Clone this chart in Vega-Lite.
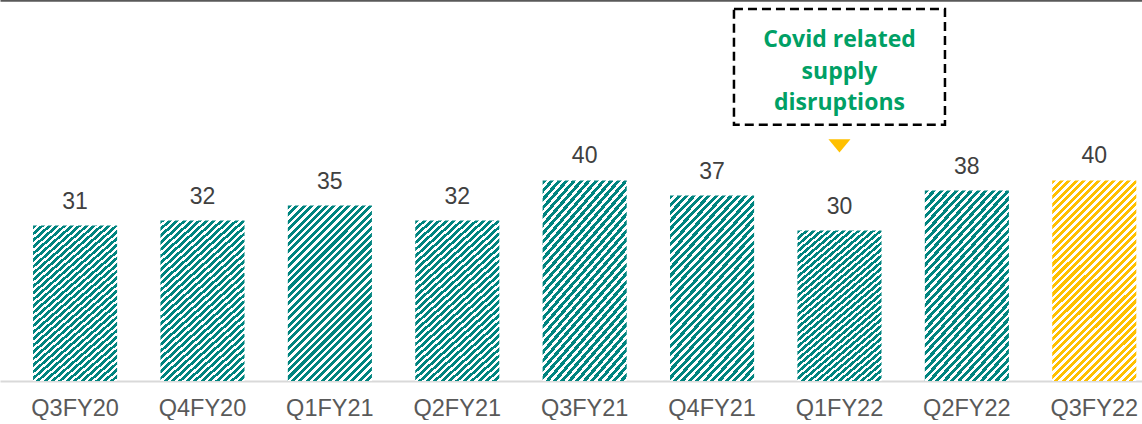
{
  "$schema": "https://vega.github.io/schema/vega-lite/v6.json",
  "width": 1142,
  "height": 381,
  "padding": 0,
  "autosize": {"type": "pad"},
  "config": {"view": {"stroke": null}, "font": "Liberation Sans"},
  "datasets": {
    "sales": [
      {"q": "Q3FY20", "v": 31},
      {"q": "Q4FY20", "v": 32},
      {"q": "Q1FY21", "v": 35},
      {"q": "Q2FY21", "v": 32},
      {"q": "Q3FY21", "v": 40},
      {"q": "Q4FY21", "v": 37},
      {"q": "Q1FY22", "v": 30},
      {"q": "Q2FY22", "v": 38},
      {"q": "Q3FY22", "v": 40}
    ],
    "notes": [
      {"q": "Q1FY22", "label": ["Covid related", "supply", "disruptions"]}
    ]
  },
  "layer": [
    {
      "data": {"name": "sales"},
      "mark": {"type": "bar"},
      "encoding": {
        "x": {
          "field": "q", "type": "nominal", "sort": null,
          "scale": {"domain": ["Q3FY20","Q4FY20","Q1FY21","Q2FY21","Q3FY21","Q4FY21","Q1FY22","Q2FY22","Q3FY22"], "paddingInner": 0.34, "paddingOuter": 0.152, "align": 0.853},
          "axis": {"title": null, "orient": "bottom", "ticks": false, "labelAngle": 0, "labelFontSize": 23.5, "labelColor": "#595959", "labelPadding": 15, "domainColor": "#D9D9D9", "domainWidth": 2}
        },
        "y": {"field": "v", "type": "quantitative", "scale": {"domain": [0, 76], "nice": false}, "axis": null},
        "fill": {
          "condition": {
            "test": "datum.q === 'Q3FY22'",
            "value": {"gradient": "linear", "x1": 0, "y1": 0, "x2": 0.504, "y2": 1.207, "stops": [
              {"offset": 0, "color": "#FFC000"},{"offset": 0.0145, "color": "#FFC000"},{"offset": 0.0145, "color": "#fff"},{"offset": 0.0263, "color": "#fff"},
              {"offset": 0.0263, "color": "#FFC000"},{"offset": 0.0408, "color": "#FFC000"},{"offset": 0.0408, "color": "#fff"},{"offset": 0.0526, "color": "#fff"},
              {"offset": 0.0526, "color": "#FFC000"},{"offset": 0.0671, "color": "#FFC000"},{"offset": 0.0671, "color": "#fff"},{"offset": 0.0789, "color": "#fff"},
              {"offset": 0.0789, "color": "#FFC000"},{"offset": 0.0934, "color": "#FFC000"},{"offset": 0.0934, "color": "#fff"},{"offset": 0.1053, "color": "#fff"},
              {"offset": 0.1053, "color": "#FFC000"},{"offset": 0.1197, "color": "#FFC000"},{"offset": 0.1197, "color": "#fff"},{"offset": 0.1316, "color": "#fff"},
              {"offset": 0.1316, "color": "#FFC000"},{"offset": 0.1461, "color": "#FFC000"},{"offset": 0.1461, "color": "#fff"},{"offset": 0.1579, "color": "#fff"},
              {"offset": 0.1579, "color": "#FFC000"},{"offset": 0.1724, "color": "#FFC000"},{"offset": 0.1724, "color": "#fff"},{"offset": 0.1842, "color": "#fff"},
              {"offset": 0.1842, "color": "#FFC000"},{"offset": 0.1987, "color": "#FFC000"},{"offset": 0.1987, "color": "#fff"},{"offset": 0.2105, "color": "#fff"},
              {"offset": 0.2105, "color": "#FFC000"},{"offset": 0.2250, "color": "#FFC000"},{"offset": 0.2250, "color": "#fff"},{"offset": 0.2368, "color": "#fff"},
              {"offset": 0.2368, "color": "#FFC000"},{"offset": 0.2513, "color": "#FFC000"},{"offset": 0.2513, "color": "#fff"},{"offset": 0.2632, "color": "#fff"},
              {"offset": 0.2632, "color": "#FFC000"},{"offset": 0.2776, "color": "#FFC000"},{"offset": 0.2776, "color": "#fff"},{"offset": 0.2895, "color": "#fff"},
              {"offset": 0.2895, "color": "#FFC000"},{"offset": 0.3039, "color": "#FFC000"},{"offset": 0.3039, "color": "#fff"},{"offset": 0.3158, "color": "#fff"},
              {"offset": 0.3158, "color": "#FFC000"},{"offset": 0.3303, "color": "#FFC000"},{"offset": 0.3303, "color": "#fff"},{"offset": 0.3421, "color": "#fff"},
              {"offset": 0.3421, "color": "#FFC000"},{"offset": 0.3566, "color": "#FFC000"},{"offset": 0.3566, "color": "#fff"},{"offset": 0.3684, "color": "#fff"},
              {"offset": 0.3684, "color": "#FFC000"},{"offset": 0.3829, "color": "#FFC000"},{"offset": 0.3829, "color": "#fff"},{"offset": 0.3947, "color": "#fff"},
              {"offset": 0.3947, "color": "#FFC000"},{"offset": 0.4092, "color": "#FFC000"},{"offset": 0.4092, "color": "#fff"},{"offset": 0.4211, "color": "#fff"},
              {"offset": 0.4211, "color": "#FFC000"},{"offset": 0.4355, "color": "#FFC000"},{"offset": 0.4355, "color": "#fff"},{"offset": 0.4474, "color": "#fff"},
              {"offset": 0.4474, "color": "#FFC000"},{"offset": 0.4618, "color": "#FFC000"},{"offset": 0.4618, "color": "#fff"},{"offset": 0.4737, "color": "#fff"},
              {"offset": 0.4737, "color": "#FFC000"},{"offset": 0.4882, "color": "#FFC000"},{"offset": 0.4882, "color": "#fff"},{"offset": 0.5, "color": "#fff"},
              {"offset": 0.5, "color": "#FFC000"},{"offset": 0.5145, "color": "#FFC000"},{"offset": 0.5145, "color": "#fff"},{"offset": 0.5263, "color": "#fff"},
              {"offset": 0.5263, "color": "#FFC000"},{"offset": 0.5408, "color": "#FFC000"},{"offset": 0.5408, "color": "#fff"},{"offset": 0.5526, "color": "#fff"},
              {"offset": 0.5526, "color": "#FFC000"},{"offset": 0.5671, "color": "#FFC000"},{"offset": 0.5671, "color": "#fff"},{"offset": 0.5789, "color": "#fff"},
              {"offset": 0.5789, "color": "#FFC000"},{"offset": 0.5934, "color": "#FFC000"},{"offset": 0.5934, "color": "#fff"},{"offset": 0.6053, "color": "#fff"},
              {"offset": 0.6053, "color": "#FFC000"},{"offset": 0.6197, "color": "#FFC000"},{"offset": 0.6197, "color": "#fff"},{"offset": 0.6316, "color": "#fff"},
              {"offset": 0.6316, "color": "#FFC000"},{"offset": 0.6461, "color": "#FFC000"},{"offset": 0.6461, "color": "#fff"},{"offset": 0.6579, "color": "#fff"},
              {"offset": 0.6579, "color": "#FFC000"},{"offset": 0.6724, "color": "#FFC000"},{"offset": 0.6724, "color": "#fff"},{"offset": 0.6842, "color": "#fff"},
              {"offset": 0.6842, "color": "#FFC000"},{"offset": 0.6987, "color": "#FFC000"},{"offset": 0.6987, "color": "#fff"},{"offset": 0.7105, "color": "#fff"},
              {"offset": 0.7105, "color": "#FFC000"},{"offset": 0.7250, "color": "#FFC000"},{"offset": 0.7250, "color": "#fff"},{"offset": 0.7368, "color": "#fff"},
              {"offset": 0.7368, "color": "#FFC000"},{"offset": 0.7513, "color": "#FFC000"},{"offset": 0.7513, "color": "#fff"},{"offset": 0.7632, "color": "#fff"},
              {"offset": 0.7632, "color": "#FFC000"},{"offset": 0.7776, "color": "#FFC000"},{"offset": 0.7776, "color": "#fff"},{"offset": 0.7895, "color": "#fff"},
              {"offset": 0.7895, "color": "#FFC000"},{"offset": 0.8039, "color": "#FFC000"},{"offset": 0.8039, "color": "#fff"},{"offset": 0.8158, "color": "#fff"},
              {"offset": 0.8158, "color": "#FFC000"},{"offset": 0.8303, "color": "#FFC000"},{"offset": 0.8303, "color": "#fff"},{"offset": 0.8421, "color": "#fff"},
              {"offset": 0.8421, "color": "#FFC000"},{"offset": 0.8566, "color": "#FFC000"},{"offset": 0.8566, "color": "#fff"},{"offset": 0.8684, "color": "#fff"},
              {"offset": 0.8684, "color": "#FFC000"},{"offset": 0.8829, "color": "#FFC000"},{"offset": 0.8829, "color": "#fff"},{"offset": 0.8947, "color": "#fff"},
              {"offset": 0.8947, "color": "#FFC000"},{"offset": 0.9092, "color": "#FFC000"},{"offset": 0.9092, "color": "#fff"},{"offset": 0.9211, "color": "#fff"},
              {"offset": 0.9211, "color": "#FFC000"},{"offset": 0.9355, "color": "#FFC000"},{"offset": 0.9355, "color": "#fff"},{"offset": 0.9474, "color": "#fff"},
              {"offset": 0.9474, "color": "#FFC000"},{"offset": 0.9618, "color": "#FFC000"},{"offset": 0.9618, "color": "#fff"},{"offset": 0.9737, "color": "#fff"},
              {"offset": 0.9737, "color": "#FFC000"},{"offset": 0.9882, "color": "#FFC000"},{"offset": 0.9882, "color": "#fff"},{"offset": 1, "color": "#fff"}
            ]}
          },
          "value": {"gradient": "linear", "x1": 0, "y1": 0, "x2": 0.577, "y2": 1.203, "stops": [
            {"offset": 0, "color": "#00847F"},{"offset": 0.0157, "color": "#00847F"},{"offset": 0.0157, "color": "#fff"},{"offset": 0.0286, "color": "#fff"},
            {"offset": 0.0286, "color": "#00847F"},{"offset": 0.0443, "color": "#00847F"},{"offset": 0.0443, "color": "#fff"},{"offset": 0.0571, "color": "#fff"},
            {"offset": 0.0571, "color": "#00847F"},{"offset": 0.0729, "color": "#00847F"},{"offset": 0.0729, "color": "#fff"},{"offset": 0.0857, "color": "#fff"},
            {"offset": 0.0857, "color": "#00847F"},{"offset": 0.1014, "color": "#00847F"},{"offset": 0.1014, "color": "#fff"},{"offset": 0.1143, "color": "#fff"},
            {"offset": 0.1143, "color": "#00847F"},{"offset": 0.1300, "color": "#00847F"},{"offset": 0.1300, "color": "#fff"},{"offset": 0.1429, "color": "#fff"},
            {"offset": 0.1429, "color": "#00847F"},{"offset": 0.1586, "color": "#00847F"},{"offset": 0.1586, "color": "#fff"},{"offset": 0.1714, "color": "#fff"},
            {"offset": 0.1714, "color": "#00847F"},{"offset": 0.1871, "color": "#00847F"},{"offset": 0.1871, "color": "#fff"},{"offset": 0.2, "color": "#fff"},
            {"offset": 0.2, "color": "#00847F"},{"offset": 0.2157, "color": "#00847F"},{"offset": 0.2157, "color": "#fff"},{"offset": 0.2286, "color": "#fff"},
            {"offset": 0.2286, "color": "#00847F"},{"offset": 0.2443, "color": "#00847F"},{"offset": 0.2443, "color": "#fff"},{"offset": 0.2571, "color": "#fff"},
            {"offset": 0.2571, "color": "#00847F"},{"offset": 0.2729, "color": "#00847F"},{"offset": 0.2729, "color": "#fff"},{"offset": 0.2857, "color": "#fff"},
            {"offset": 0.2857, "color": "#00847F"},{"offset": 0.3014, "color": "#00847F"},{"offset": 0.3014, "color": "#fff"},{"offset": 0.3143, "color": "#fff"},
            {"offset": 0.3143, "color": "#00847F"},{"offset": 0.3300, "color": "#00847F"},{"offset": 0.3300, "color": "#fff"},{"offset": 0.3429, "color": "#fff"},
            {"offset": 0.3429, "color": "#00847F"},{"offset": 0.3586, "color": "#00847F"},{"offset": 0.3586, "color": "#fff"},{"offset": 0.3714, "color": "#fff"},
            {"offset": 0.3714, "color": "#00847F"},{"offset": 0.3871, "color": "#00847F"},{"offset": 0.3871, "color": "#fff"},{"offset": 0.4, "color": "#fff"},
            {"offset": 0.4, "color": "#00847F"},{"offset": 0.4157, "color": "#00847F"},{"offset": 0.4157, "color": "#fff"},{"offset": 0.4286, "color": "#fff"},
            {"offset": 0.4286, "color": "#00847F"},{"offset": 0.4443, "color": "#00847F"},{"offset": 0.4443, "color": "#fff"},{"offset": 0.4571, "color": "#fff"},
            {"offset": 0.4571, "color": "#00847F"},{"offset": 0.4729, "color": "#00847F"},{"offset": 0.4729, "color": "#fff"},{"offset": 0.4857, "color": "#fff"},
            {"offset": 0.4857, "color": "#00847F"},{"offset": 0.5014, "color": "#00847F"},{"offset": 0.5014, "color": "#fff"},{"offset": 0.5143, "color": "#fff"},
            {"offset": 0.5143, "color": "#00847F"},{"offset": 0.5300, "color": "#00847F"},{"offset": 0.5300, "color": "#fff"},{"offset": 0.5429, "color": "#fff"},
            {"offset": 0.5429, "color": "#00847F"},{"offset": 0.5586, "color": "#00847F"},{"offset": 0.5586, "color": "#fff"},{"offset": 0.5714, "color": "#fff"},
            {"offset": 0.5714, "color": "#00847F"},{"offset": 0.5871, "color": "#00847F"},{"offset": 0.5871, "color": "#fff"},{"offset": 0.6, "color": "#fff"},
            {"offset": 0.6, "color": "#00847F"},{"offset": 0.6157, "color": "#00847F"},{"offset": 0.6157, "color": "#fff"},{"offset": 0.6286, "color": "#fff"},
            {"offset": 0.6286, "color": "#00847F"},{"offset": 0.6443, "color": "#00847F"},{"offset": 0.6443, "color": "#fff"},{"offset": 0.6571, "color": "#fff"},
            {"offset": 0.6571, "color": "#00847F"},{"offset": 0.6729, "color": "#00847F"},{"offset": 0.6729, "color": "#fff"},{"offset": 0.6857, "color": "#fff"},
            {"offset": 0.6857, "color": "#00847F"},{"offset": 0.7014, "color": "#00847F"},{"offset": 0.7014, "color": "#fff"},{"offset": 0.7143, "color": "#fff"},
            {"offset": 0.7143, "color": "#00847F"},{"offset": 0.7300, "color": "#00847F"},{"offset": 0.7300, "color": "#fff"},{"offset": 0.7429, "color": "#fff"},
            {"offset": 0.7429, "color": "#00847F"},{"offset": 0.7586, "color": "#00847F"},{"offset": 0.7586, "color": "#fff"},{"offset": 0.7714, "color": "#fff"},
            {"offset": 0.7714, "color": "#00847F"},{"offset": 0.7871, "color": "#00847F"},{"offset": 0.7871, "color": "#fff"},{"offset": 0.8, "color": "#fff"},
            {"offset": 0.8, "color": "#00847F"},{"offset": 0.8157, "color": "#00847F"},{"offset": 0.8157, "color": "#fff"},{"offset": 0.8286, "color": "#fff"},
            {"offset": 0.8286, "color": "#00847F"},{"offset": 0.8443, "color": "#00847F"},{"offset": 0.8443, "color": "#fff"},{"offset": 0.8571, "color": "#fff"},
            {"offset": 0.8571, "color": "#00847F"},{"offset": 0.8729, "color": "#00847F"},{"offset": 0.8729, "color": "#fff"},{"offset": 0.8857, "color": "#fff"},
            {"offset": 0.8857, "color": "#00847F"},{"offset": 0.9014, "color": "#00847F"},{"offset": 0.9014, "color": "#fff"},{"offset": 0.9143, "color": "#fff"},
            {"offset": 0.9143, "color": "#00847F"},{"offset": 0.9300, "color": "#00847F"},{"offset": 0.9300, "color": "#fff"},{"offset": 0.9429, "color": "#fff"},
            {"offset": 0.9429, "color": "#00847F"},{"offset": 0.9586, "color": "#00847F"},{"offset": 0.9586, "color": "#fff"},{"offset": 0.9714, "color": "#fff"},
            {"offset": 0.9714, "color": "#00847F"},{"offset": 0.9871, "color": "#00847F"},{"offset": 0.9871, "color": "#fff"},{"offset": 1, "color": "#fff"}
          ]}
        }
      }
    },
    {
      "data": {"name": "sales"},
      "mark": {"type": "text", "fontSize": 23, "color": "#404040", "baseline": "alphabetic", "dy": -17, "font": "Liberation Sans"},
      "encoding": {
        "x": {"field": "q", "type": "nominal", "sort": null, "axis": null},
        "y": {"field": "v", "type": "quantitative", "axis": null},
        "text": {"field": "v", "type": "quantitative"}
      }
    },
    {
      "data": {"name": "notes"},
      "mark": {"type": "rect", "width": 211, "fill": null, "stroke": "#000000", "strokeWidth": 2.5, "strokeDash": [9, 5]},
      "encoding": {
        "x": {"field": "q", "type": "nominal", "sort": null, "axis": {"orient": "top", "title": null, "labels": false, "ticks": false, "domainColor": "#595959", "domainWidth": 2.5}},
        "y": {"datum": 74.2, "type": "quantitative", "axis": null},
        "y2": {"datum": 51.1}
      }
    },
    {
      "data": {"name": "notes"},
      "mark": {"type": "text", "font": "Open Sans", "fontWeight": "bold", "fontSize": 23, "color": "#00A065", "lineHeight": 31.5, "baseline": "middle", "align": "center"},
      "encoding": {
        "x": {"field": "q", "type": "nominal", "sort": null, "axis": null},
        "y": {"datum": 68.0, "type": "quantitative", "axis": null},
        "text": {"field": "label"}
      }
    },
    {
      "data": {"name": "notes"},
      "mark": {"type": "point", "shape": "M-1,-0.6L1,-0.6L0,0.6Z", "filled": true, "color": "#FFC000", "opacity": 1, "size": 484},
      "encoding": {
        "x": {"field": "q", "type": "nominal", "sort": null, "axis": null},
        "y": {"datum": 46.9, "type": "quantitative", "axis": null}
      }
    }
  ],
  "resolve": {"axis": {"x": "independent"}}
}
